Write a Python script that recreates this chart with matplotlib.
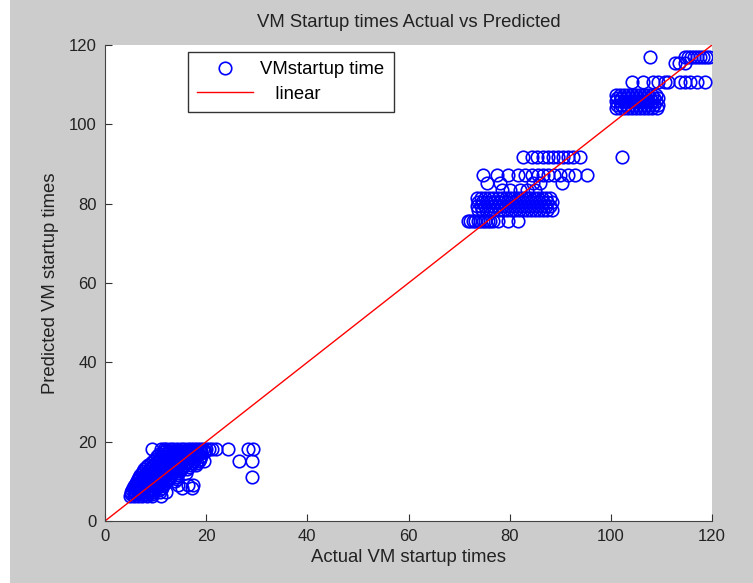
import matplotlib.pyplot as plt
import numpy as np

plt.rcParams['font.family'] = ['Liberation Sans', 'DejaVu Sans']

# lower cluster: predicted level -> actual values
low_levels = [18.2, 17.7, 17.3, 16.8, 16.3, 15.7, 15.2, 14.7, 14.2, 13.7, 13.2, 12.7, 12.2,
              11.7, 11.2, 10.7, 10.2, 9.7, 9.2, 8.7, 8.3, 7.8, 7.3, 6.8, 6.3]
low_actual = [
    [9.3, 11.0, 11.6, 12.0, 12.8, 13.5, 14.2, 15.0, 15.7, 16.4, 17.0, 17.6, 18.2, 18.8, 19.4, 20.0, 20.6, 21.2, 22.0, 24.3, 28.3, 29.2],
    [11.8, 12.6, 13.4, 14.2, 15.0, 15.8, 16.6, 17.4, 18.2, 19.0, 19.8],
    [11.5, 12.5, 13.4, 14.3, 15.2, 16.1, 17.0, 17.9, 18.8, 19.6],
    [10.6, 11.4, 12.3, 13.2, 14.1, 15.0, 15.9, 16.8, 17.7, 18.6],
    [10.2, 11.0, 12.0, 13.0, 14.0, 15.0, 16.0, 17.0, 18.0, 19.0],
    [9.8, 10.8, 11.8, 12.8, 13.8, 14.8, 15.8, 16.8, 17.8, 18.8],
    [9.5, 10.5, 11.5, 12.5, 13.5, 14.5, 15.5, 16.5, 17.5, 18.5, 19.5, 26.5, 29.0],
    [9.0, 10.0, 11.0, 12.0, 13.0, 14.0, 15.0, 16.0, 17.0, 18.2],
    [8.5, 9.5, 10.5, 11.5, 12.5, 13.5, 14.5, 15.5, 17.0, 18.0],
    [8.2, 9.2, 10.2, 11.2, 12.2, 13.2, 14.2, 15.4, 16.6],
    [7.8, 8.8, 9.8, 10.8, 11.8, 12.8, 13.8, 15.0, 16.2],
    [7.5, 8.5, 9.5, 10.5, 11.5, 12.5, 13.5, 14.8],
    [7.3, 8.2, 9.2, 10.2, 11.2, 12.2, 13.2, 14.5, 16.0],
    [7.0, 8.0, 9.0, 10.0, 11.0, 12.0, 13.0, 14.2],
    [6.8, 7.8, 8.8, 9.8, 10.8, 11.8, 12.8, 14.0, 29.0],
    [6.5, 7.5, 8.5, 9.5, 10.5, 11.5, 12.6, 14.2],
    [6.3, 7.2, 8.2, 9.2, 10.2, 11.2, 12.3, 13.8],
    [6.1, 7.0, 7.9, 8.8, 9.8, 10.8, 11.8],
    [6.0, 6.8, 7.6, 8.5, 9.4, 10.4, 11.4, 14.5, 16.5, 17.3],
    [5.8, 6.6, 7.4, 8.2, 9.1, 10.1, 11.0],
    [5.6, 6.4, 7.2, 8.0, 9.0, 10.0, 11.2, 15.3, 17.2],
    [5.4, 6.2, 7.0, 7.8, 8.7, 9.7, 10.6],
    [5.2, 6.0, 6.8, 7.6, 8.5, 9.5, 10.8, 12.0],
    [5.1, 5.9, 6.7, 7.5, 8.4, 9.3],
    [5.0, 5.8, 6.6, 7.4, 8.3, 9.2, 11.0],
]

# middle cluster
mid_levels = [91.7, 87.2, 85.1, 83.4, 81.4, 80.4, 79.3, 78.3, 75.6]
mid_actual = [
    [82.6, 84.4, 85.5, 86.5, 87.5, 88.5, 89.5, 90.5, 91.5, 92.5, 93.9],
    [74.7, 77.5, 79.6, 81.6, 83.0, 84.4, 85.6, 86.6, 87.6, 88.8, 90.0, 91.5, 93.0, 95.3],
    [75.5, 78.0, 84.6, 86.0, 90.3],
    [78.5, 80.0, 82.0, 83.5, 85.0],
    [73.6, 74.4, 75.2, 76.0, 76.8, 77.6, 78.4, 79.2, 80.0, 80.8, 81.6, 82.4, 83.2, 84.0, 84.8, 85.6, 86.4, 87.2, 88.0],
    [73.8, 74.6, 75.4, 76.2, 77.0, 77.8, 78.6, 79.4, 80.2, 81.0, 81.8, 82.6, 83.4, 84.2, 85.0, 85.8, 86.6, 87.4, 88.3],
    [73.6, 74.4, 75.2, 76.0, 76.8, 77.6, 78.4, 79.2, 80.0, 80.8, 81.6, 82.4, 83.2, 84.0, 84.8, 85.6, 86.4, 87.2, 88.0],
    [73.8, 74.6, 75.4, 76.2, 77.0, 77.8, 78.6, 79.4, 80.2, 81.0, 81.8, 82.6, 83.4, 84.2, 85.0, 85.8, 86.6, 87.4, 88.3],
    [71.7, 72.2, 72.7, 73.2, 73.7, 74.2, 74.7, 75.2, 75.7, 76.2, 76.7, 77.7, 79.6, 81.6],
]

# upper cluster
high_levels = [116.9, 115.4, 110.6, 107.4, 106.6, 105.8, 105.0, 104.2, 91.7]
high_actual = [
    [107.7, 114.6, 115.2, 115.8, 116.4, 117.0, 117.6, 118.2, 118.8, 119.4],
    [112.6, 113.5, 114.6],
    [104.2, 106.3, 108.3, 109.3, 110.7, 111.3, 113.6, 114.6, 115.6, 117.0, 118.6],
    [101.0, 101.8, 102.6, 103.4, 104.2, 105.0, 105.8, 106.6, 107.4, 108.2, 109.0],
    [101.3, 102.1, 102.9, 103.7, 104.5, 105.3, 106.1, 106.9, 107.7, 108.5, 109.3],
    [101.0, 101.8, 102.6, 103.4, 104.2, 105.0, 105.8, 106.6, 107.4, 108.2, 109.0],
    [101.3, 102.1, 102.9, 103.7, 104.5, 105.3, 106.1, 106.9, 107.7, 108.5, 109.3],
    [101.0, 101.8, 102.6, 103.4, 104.2, 105.0, 105.8, 106.6, 107.4, 108.2, 109.2],
    [102.2],
]

actual = []
predicted = []
for levels, groups in [(low_levels, low_actual), (mid_levels, mid_actual), (high_levels, high_actual)]:
    for lev, xs in zip(levels, groups):
        actual += xs
        predicted += [lev] * len(xs)

line_x = [0, 120]
line_y = [0, 120]

fig = plt.figure(figsize=(7.53, 5.83), dpi=100, facecolor='#cccccc')
fig.patches.append(plt.Rectangle((0, 0), 10 / 753, 1, transform=fig.transFigure,
                                 facecolor='white', edgecolor='none', zorder=-1))
ax = fig.add_axes([105 / 753, 62 / 583, 607 / 753, 476 / 583])
ax.set_facecolor('white')

ax.plot(actual, predicted, 'o', mfc='none', mec='blue', ms=9, mew=1.2, label='VMstartup time')
ax.plot(line_x, line_y, '-', color='red', lw=1.0, label='   linear')

ax.set_xlim(0, 120)
ax.set_ylim(0, 120)
ax.set_xticks(np.arange(0, 121, 20))
ax.set_yticks(np.arange(0, 121, 20))
ax.tick_params(direction='in', length=5, labelsize=12, colors='#333333', labelcolor='#222222', pad=6)
for s in ['top', 'right']:
    ax.spines[s].set_visible(False)
for s in ['left', 'bottom']:
    ax.spines[s].set_color('#444444')

ax.set_title('VM Startup times Actual vs Predicted', fontsize=13.3, color='#222222', pad=13)
ax.set_xlabel('Actual VM startup times', fontsize=13.3, color='#222222', labelpad=3)
ax.set_ylabel('Predicted VM startup times', fontsize=13.3, color='#222222', labelpad=7)

leg = ax.legend(loc='upper left', bbox_to_anchor=(0.137, 0.985), borderaxespad=0, fontsize=13.3,
                frameon=True, fancybox=False, edgecolor='#333333', framealpha=1,
                handlelength=3.0, borderpad=0.5, labelspacing=0.4, handletextpad=0.4)
leg.get_frame().set_linewidth(1.0)

fig.savefig('out.png', dpi=100, facecolor=fig.get_facecolor())
